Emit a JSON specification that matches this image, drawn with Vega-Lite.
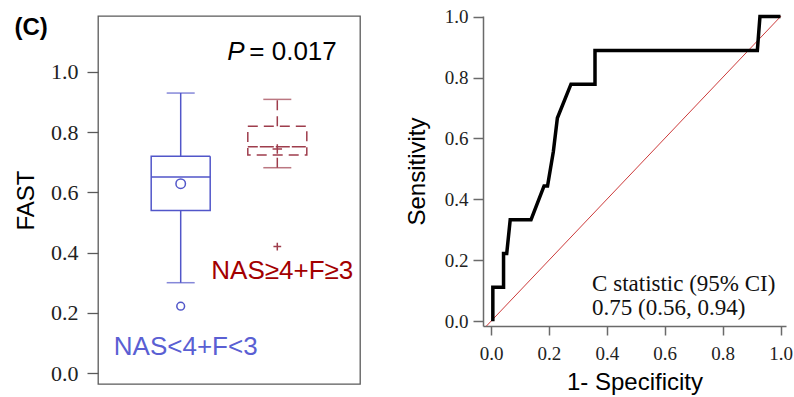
{
  "$schema": "https://vega.github.io/schema/vega-lite/v6.json",
  "background": "white",
  "padding": {"left": 13, "top": 7, "right": 5, "bottom": 5},
  "spacing": 123,
  "bounds": "flush",
  "config": {"view": {"stroke": null}},
  "datasets": {
    "box": [
      {"g": "NAS<4+F<3", "lo": 0.300, "q1": 0.540, "med": 0.651, "q3": 0.720, "hi": 0.930, "mean": 0.629},
      {"g": "NAS≥4+F≥3", "lo": 0.682, "q1": 0.724, "med": 0.752, "q3": 0.820, "hi": 0.909, "mean": 0.744}
    ],
    "out": [
      {"g": "NAS<4+F<3", "v": 0.222},
      {"g": "NAS≥4+F≥3", "v": 0.420}
    ],
    "lab": [
      {"g": "NAS<4+F<3", "v": 0.060},
      {"g": "NAS≥4+F≥3", "v": 0.312}
    ],
    "ptxt": [
      {"g": "NAS≥4+F≥3", "v": 1.040}
    ],
    "roc": [
      {"i": 0, "fpr": 0.006, "tpr": 0.0},
      {"i": 1, "fpr": 0.006, "tpr": 0.111},
      {"i": 2, "fpr": 0.043, "tpr": 0.111},
      {"i": 3, "fpr": 0.043, "tpr": 0.222},
      {"i": 4, "fpr": 0.054, "tpr": 0.222},
      {"i": 5, "fpr": 0.066, "tpr": 0.333},
      {"i": 6, "fpr": 0.138, "tpr": 0.333},
      {"i": 7, "fpr": 0.183, "tpr": 0.444},
      {"i": 8, "fpr": 0.195, "tpr": 0.444},
      {"i": 9, "fpr": 0.215, "tpr": 0.556},
      {"i": 10, "fpr": 0.229, "tpr": 0.667},
      {"i": 11, "fpr": 0.276, "tpr": 0.778},
      {"i": 12, "fpr": 0.359, "tpr": 0.778},
      {"i": 13, "fpr": 0.359, "tpr": 0.889},
      {"i": 14, "fpr": 0.920, "tpr": 0.889},
      {"i": 15, "fpr": 0.929, "tpr": 1.0},
      {"i": 16, "fpr": 1.0, "tpr": 1.0}
    ],
    "diag": [
      {"fpr": -0.05, "tpr": -0.05},
      {"fpr": 1.05, "tpr": 1.05}
    ],
    "cstat": [
      {"fpr": 0.349, "tpr": 0.123, "t": "C statistic (95% CI)"},
      {"fpr": 0.349, "tpr": 0.044, "t": "0.75 (0.56, 0.94)"}
    ]
  },
  "hconcat": [
    {
      "width": 262,
      "height": 368,
      "view": {"stroke": "#5a5a5a", "strokeWidth": 1.3},
      "title": {"text": "(C)", "anchor": "start", "frame": "bounds", "orient": "top", "offset": -24, "font": "Liberation Sans", "fontSize": 24, "fontWeight": "bold", "color": "black"},
      "encoding": {
        "x": {"field": "g", "type": "nominal", "scale": {"type": "point", "padding": 0.856, "domain": ["NAS<4+F<3", "NAS≥4+F≥3"]}, "axis": null}
      },
      "layer": [
        {
          "data": {"name": "box"},
          "mark": {"type": "rule", "strokeWidth": 1.5},
          "encoding": {
            "y": {"field": "q3", "type": "quantitative", "scale": {"domain": [-0.0365, 1.186], "nice": false, "zero": false},
              "axis": {"title": "FAST", "values": [0, 0.2, 0.4, 0.6, 0.8, 1.0], "format": ".1f", "domain": false, "grid": false,
                "tickSize": 11, "tickColor": "#5a5a5a", "tickWidth": 1.3, "labelPadding": 9,
                "labelFont": "Liberation Serif", "labelFontSize": 22, "labelColor": "#222",
                "titleFont": "Liberation Sans", "titleFontSize": 24, "titleFontWeight": "normal", "titleColor": "black", "titlePadding": 12}},
            "y2": {"field": "hi"},
            "color": {"condition": {"test": "datum.g === 'NAS<4+F<3'", "value": "#5156c9"}, "value": "#9e3d4c"},
            "strokeDash": {"condition": {"test": "datum.g === 'NAS<4+F<3'", "value": [1, 0]}, "value": [10, 6]}
          }
        },
        {
          "data": {"name": "box"},
          "mark": {"type": "rule", "strokeWidth": 1.5},
          "encoding": {
            "y": {"field": "lo", "type": "quantitative"},
            "y2": {"field": "q1"},
            "color": {"condition": {"test": "datum.g === 'NAS<4+F<3'", "value": "#5156c9"}, "value": "#9e3d4c"},
            "strokeDash": {"condition": {"test": "datum.g === 'NAS<4+F<3'", "value": [1, 0]}, "value": [10, 6]}
          }
        },
        {
          "data": {"name": "box"},
          "mark": {"type": "tick", "size": 28, "thickness": 1.5},
          "encoding": {
            "y": {"field": "hi", "type": "quantitative"},
            "color": {"condition": {"test": "datum.g === 'NAS<4+F<3'", "value": "#5156c9"}, "value": "#9e3d4c"}
          }
        },
        {
          "data": {"name": "box"},
          "mark": {"type": "tick", "size": 28, "thickness": 1.5},
          "encoding": {
            "y": {"field": "lo", "type": "quantitative"},
            "color": {"condition": {"test": "datum.g === 'NAS<4+F<3'", "value": "#5156c9"}, "value": "#9e3d4c"}
          }
        },
        {
          "data": {"name": "box"},
          "mark": {"type": "bar", "width": 59, "fill": "white", "fillOpacity": 0, "strokeWidth": 1.5},
          "encoding": {
            "y": {"field": "q1", "type": "quantitative"},
            "y2": {"field": "q3"},
            "stroke": {"condition": {"test": "datum.g === 'NAS<4+F<3'", "value": "#5156c9"}, "value": "#9e3d4c"},
            "strokeDash": {"condition": {"test": "datum.g === 'NAS<4+F<3'", "value": [1, 0]}, "value": [10, 6]}
          }
        },
        {
          "data": {"name": "box"},
          "mark": {"type": "bar", "width": 59, "fill": "white", "fillOpacity": 0, "strokeWidth": 1.5},
          "encoding": {
            "y": {"field": "med", "type": "quantitative"},
            "y2": {"field": "med"},
            "stroke": {"condition": {"test": "datum.g === 'NAS<4+F<3'", "value": "#5156c9"}, "value": "#9e3d4c"},
            "strokeDash": {"condition": {"test": "datum.g === 'NAS<4+F<3'", "value": [1, 0]}, "value": [10, 6]}
          }
        },
        {
          "data": {"name": "box"},
          "mark": {"type": "point", "filled": false, "strokeWidth": 1.5, "size": 90, "opacity": 1},
          "encoding": {
            "y": {"field": "mean", "type": "quantitative"},
            "shape": {"condition": {"test": "datum.g === 'NAS<4+F<3'", "value": "circle"}, "value": "M-1,0H1M0,-1V1"},
            "color": {"condition": {"test": "datum.g === 'NAS<4+F<3'", "value": "#5156c9"}, "value": "#9e3d4c"}
          }
        },
        {
          "data": {"name": "out"},
          "mark": {"type": "point", "filled": false, "strokeWidth": 1.5, "size": 60, "opacity": 1},
          "encoding": {
            "y": {"field": "v", "type": "quantitative"},
            "shape": {"condition": {"test": "datum.g === 'NAS<4+F<3'", "value": "circle"}, "value": "M-1,0H1M0,-1V1"},
            "color": {"condition": {"test": "datum.g === 'NAS<4+F<3'", "value": "#5156c9"}, "value": "#9e3d4c"}
          }
        },
        {
          "data": {"name": "lab"},
          "mark": {"type": "text", "font": "Liberation Sans", "fontSize": 26, "baseline": "alphabetic", "align": "center", "dx": 5},
          "encoding": {
            "y": {"field": "v", "type": "quantitative"},
            "text": {"field": "g"},
            "color": {"condition": {"test": "datum.g === 'NAS<4+F<3'", "value": "#5a5fd3"}, "value": "#a30000"}
          }
        },
        {
          "data": {"name": "ptxt"},
          "mark": {"type": "text", "font": "Liberation Sans", "fontSize": 26, "fontStyle": "italic", "baseline": "alphabetic", "align": "left", "dx": -50, "color": "black"},
          "encoding": {
            "y": {"field": "v", "type": "quantitative"},
            "text": {"value": "P"}
          }
        },
        {
          "data": {"name": "ptxt"},
          "mark": {"type": "text", "font": "Liberation Sans", "fontSize": 26, "baseline": "alphabetic", "align": "left", "dx": -28, "color": "black"},
          "encoding": {
            "y": {"field": "v", "type": "quantitative"},
            "text": {"value": "= 0.017"}
          }
        }
      ]
    },
    {
      "width": 303,
      "height": 310,
      "layer": [
        {
          "data": {"name": "diag"},
          "mark": {"type": "line", "color": "#cc3a3a", "strokeWidth": 1, "clip": true},
          "encoding": {
            "x": {"field": "fpr", "type": "quantitative"},
            "y": {"field": "tpr", "type": "quantitative"}
          }
        },
        {
          "data": {"name": "roc"},
          "mark": {"type": "line", "color": "black", "strokeWidth": 3.5, "strokeJoin": "miter", "clip": false},
          "encoding": {
            "x": {"field": "fpr", "type": "quantitative", "scale": {"domain": [-0.028, 1.019], "nice": false, "zero": false},
              "axis": {"title": "1- Specificity", "values": [0, 0.2, 0.4, 0.6, 0.8, 1.0], "format": ".1f", "grid": false,
                "domainColor": "#6a6a6a", "domainWidth": 1.5, "tickColor": "#6a6a6a", "tickWidth": 1.5, "tickSize": 9, "labelPadding": 9,
                "labelFont": "Liberation Serif", "labelFontSize": 19, "labelColor": "#222",
                "titleFont": "Liberation Sans", "titleFontSize": 24, "titleFontWeight": "normal", "titleColor": "black", "titlePadding": 7}},
            "y": {"field": "tpr", "type": "quantitative", "scale": {"domain": [-0.016, 1.002], "nice": false, "zero": false},
              "axis": {"title": "Sensitivity", "values": [0, 0.2, 0.4, 0.6, 0.8, 1.0], "format": ".1f", "grid": false,
                "domainColor": "#6a6a6a", "domainWidth": 1.5, "tickColor": "#6a6a6a", "tickWidth": 1.5, "tickSize": 10, "labelPadding": 5,
                "labelFont": "Liberation Serif", "labelFontSize": 19, "labelColor": "#222",
                "titleFont": "Liberation Sans", "titleFontSize": 24, "titleFontWeight": "normal", "titleColor": "black", "titlePadding": 15}},
            "order": {"field": "i", "type": "quantitative"}
          }
        },
        {
          "data": {"name": "cstat"},
          "mark": {"type": "text", "font": "Liberation Serif", "fontSize": 23, "align": "left", "baseline": "middle", "color": "#111"},
          "encoding": {
            "x": {"field": "fpr", "type": "quantitative"},
            "y": {"field": "tpr", "type": "quantitative"},
            "text": {"field": "t"}
          }
        }
      ]
    }
  ]
}
